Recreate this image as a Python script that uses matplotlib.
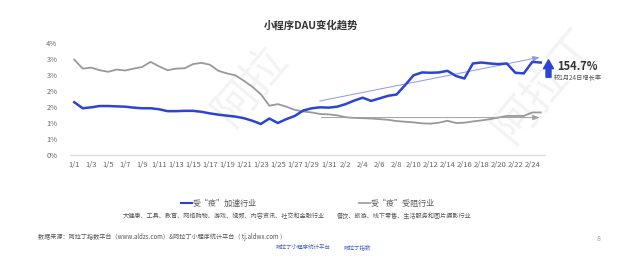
import matplotlib.pyplot as plt
from matplotlib.lines import Line2D

plt.rcParams['font.family'] = ['Noto Sans CJK SC', 'DejaVu Sans']

dates = ['1/%d' % d for d in range(1, 32)] + ['2/%d' % d for d in range(1, 26)]

# 受“疫”加速行业 (%)
boosted = [1.65, 1.46, 1.49, 1.53, 1.53, 1.52, 1.51, 1.48, 1.46, 1.46,
           1.43, 1.37, 1.37, 1.38, 1.38, 1.35, 1.30, 1.26, 1.23, 1.20,
           1.15, 1.07, 0.97, 1.14, 1.00, 1.12, 1.22, 1.39, 1.46, 1.49,
           1.48, 1.51, 1.59, 1.70, 1.79, 1.69, 1.77, 1.85, 1.89, 2.18,
           2.49, 2.58, 2.57, 2.58, 2.63, 2.47, 2.39, 2.86, 2.89, 2.86,
           2.84, 2.86, 2.57, 2.55, 2.91, 2.89]

# 受“疫”受阻行业 (%)
hindered = [2.98, 2.70, 2.73, 2.65, 2.60, 2.67, 2.64, 2.70, 2.75, 2.91,
            2.77, 2.65, 2.70, 2.71, 2.84, 2.88, 2.82, 2.63, 2.55, 2.49,
            2.32, 2.13, 1.90, 1.54, 1.59, 1.51, 1.41, 1.36, 1.33, 1.28,
            1.27, 1.24, 1.18, 1.16, 1.15, 1.14, 1.12, 1.10, 1.06, 1.04,
            1.02, 0.99, 0.98, 1.01, 1.07, 1.00, 1.01, 1.05, 1.08, 1.12,
            1.17, 1.22, 1.22, 1.22, 1.33, 1.33]

yticks = [0, 0.5, 1.0, 1.5, 2.0, 2.5, 3.0, 3.5]
ytick_labels = ['0%', '1%', '1%', '2%', '2%', '3%', '3%', '4%']

blue = '#2b44d6'
gray = '#999999'
txt = '#555555'

fig = plt.figure(figsize=(6.4, 2.65), dpi=100)
ax = fig.add_axes([70 / 640, 110 / 265, 475 / 640, 112 / 265])

# watermark, kept behind the axes
for xw, yw, s in [(0.39, 0.68, '阿拉'), (0.85, 0.68, '阿拉丁')]:
    fig.text(xw, yw, s, fontsize=32, color='#f3f3f3', rotation=50,
             ha='center', va='center', zorder=-5)

x = list(range(len(dates)))
ax.plot(x, hindered, color=gray, lw=1.3, zorder=3)
ax.plot(x, boosted, color=blue, lw=1.8, zorder=4)

# trend arrows
ax.annotate('', xy=(55.2, 3.07), xytext=(28.6, 1.67),
            arrowprops=dict(arrowstyle='-|>,head_width=0.15,head_length=0.4',
                            color='#8b98e6', lw=0.7))
ax.annotate('', xy=(55.2, 1.17), xytext=(28.8, 1.17),
            arrowprops=dict(arrowstyle='-|>,head_width=0.15,head_length=0.4',
                            color='#a0a0a0', lw=0.7))

ax.set_xlim(-0.5, len(dates) - 0.5)
ax.set_ylim(0, 3.5)
ax.set_xticks(x[::2])
ax.set_xticklabels(dates[::2], fontsize=5.5, color='#666666')
ax.set_yticks(yticks)
ax.set_yticklabels(ytick_labels, fontsize=5.5, color='#666666')
ax.tick_params(length=0, pad=4)
ax.tick_params(axis='y', pad=9)
for side in ['top', 'right', 'left']:
    ax.spines[side].set_visible(False)
ax.spines['bottom'].set_color('#d9d9d9')
ax.spines['bottom'].set_linewidth(0.8)
ax.patch.set_alpha(0)

fig.text(311 / 640, 1 - 25 / 265, '小程序DAU变化趋势', fontsize=7.5,
         fontweight='bold', color='#333333', ha='center', va='center')

# growth note
ax.annotate('', xy=(548.5, 265 - 57), xytext=(548.5, 265 - 80),
            xycoords='figure pixels', textcoords='figure pixels',
            arrowprops=dict(arrowstyle='simple,head_width=0.9,head_length=0.8,tail_width=0.45',
                            color=blue, mutation_scale=8))
fig.text(557 / 640, 1 - 67 / 265, '154.7%', fontsize=8, fontweight='bold',
         color='#333333', ha='left', va='center')
fig.text(554 / 640, 1 - 78 / 265, '较1月24日增长率', fontsize=4.5,
         color=txt, ha='left', va='center')

# legend
ly = 1 - 203 / 265
fig.add_artist(Line2D([181 / 640, 192 / 640], [ly, ly], color=blue, lw=1.5))
fig.text(193 / 640, ly, '受“疫”加速行业', fontsize=5.8, color=txt,
         ha='left', va='center')
fig.add_artist(Line2D([359 / 640, 370 / 640], [ly, ly], color=gray, lw=1.2))
fig.text(371 / 640, ly, '受“疫”受阻行业', fontsize=5.8, color=txt,
         ha='left', va='center')
fig.text(123 / 640, 1 - 216 / 265, '大健康、工具、教育、网络购物、游戏、视频、内容资讯、社交和金融行业',
         fontsize=4.4, color=txt, ha='left', va='center')
fig.text(337 / 640, 1 - 216 / 265, '餐饮、旅游、线下零售、生活服务和图片摄影行业',
         fontsize=4.4, color=txt, ha='left', va='center')

fig.text(38 / 640, 1 - 237 / 265,
         '数据来源：阿拉丁指数平台（www.aldzs.com）&阿拉丁小程序统计平台（ tj.aldwx.com ）',
         fontsize=4.4, color=txt, ha='left', va='center')
fig.text(599 / 640, 1 - 239 / 265, '8', fontsize=5, color='#999999', ha='center', va='center')
fig.text(276 / 640, 1 - 247 / 265, '阿拉丁小程序统计平台', fontsize=4, color='#4a5fd0',
         ha='left', va='center')
fig.text(343 / 640, 1 - 247 / 265, '阿拉丁指数', fontsize=4, color='#4a5fd0',
         ha='left', va='center')

fig.savefig('out.png', dpi=100)
